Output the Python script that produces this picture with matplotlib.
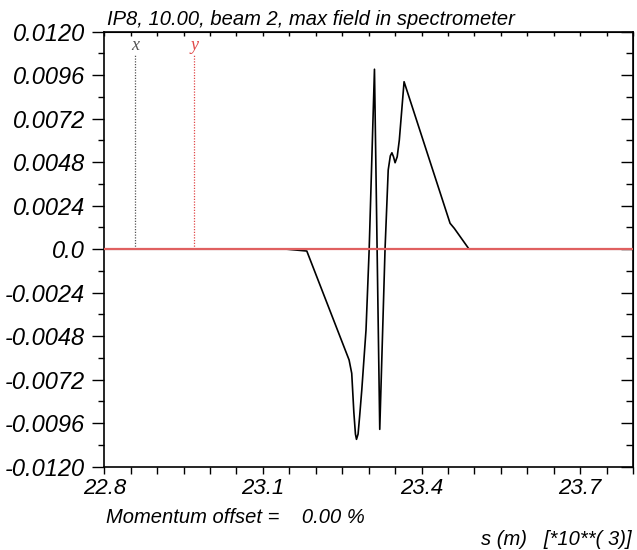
import matplotlib
matplotlib.use("Agg")
import matplotlib.pyplot as plt
import numpy as np
from matplotlib.ticker import MultipleLocator

# data
s_vals = [22.80, 23.145, 23.183, 23.263, 23.268, 23.272, 23.275, 23.277, 23.280,
          23.283, 23.287, 23.295, 23.301, 23.311, 23.321, 23.331, 23.337, 23.341,
          23.344, 23.347, 23.350, 23.354, 23.358, 23.367, 23.454, 23.462, 23.490, 23.80]
field = [0.0, 0.0, -0.0001, -0.00611, -0.00685, -0.00900, -0.01020, -0.01049, -0.01020,
         -0.00920, -0.00777, -0.00446, 0.0, 0.00993, -0.00994, 0.0, 0.00437, 0.00515,
         0.00532, 0.00510, 0.00477, 0.00510, 0.00602, 0.00924, 0.00143, 0.00115, 0.0, 0.0]
marker_s = [22.858, 22.970]
marker_labels = ["x", "y"]
marker_colors = ["#555555", "#e04848"]
y_ticks = [-0.0120, -0.0096, -0.0072, -0.0048, -0.0024, 0.0, 0.0024, 0.0048, 0.0072, 0.0096, 0.0120]
y_ticklabels = ["-0.0120", "-0.0096", "-0.0072", "-0.0048", "-0.0024", "0.0",
                "0.0024", "0.0048", "0.0072", "0.0096", "0.0120"]
x_ticks = [22.8, 23.1, 23.4, 23.7]
x_ticklabels = ["22.8", "23.1", "23.4", "23.7"]

plt.rcParams['font.family'] = ['Liberation Sans', 'DejaVu Sans']
plt.rcParams['font.style'] = 'italic'

fig = plt.figure(figsize=(6.37, 5.5), dpi=100)
ax = fig.add_axes([104.3/637, 1-466.7/550, (633-104.3)/637, (466.7-31.7)/550])

ax.set_xlim(22.8, 23.8)
ax.set_ylim(-0.012, 0.012)

ax.plot(s_vals, field, color='black', lw=1.2, zorder=2)
ax.axhline(0, color='#e06060', lw=1.6, zorder=3)

for sm, lab, col in zip(marker_s, marker_labels, marker_colors):
    ax.plot([sm, sm], [0, 0.0107], color=col, lw=0.9, ls=(0, (1, 1.2)), zorder=1)
    ax.text(sm, 0.01125, lab, color=col, ha='center', va='center', fontsize=13,
            family=['Liberation Serif', 'DejaVu Serif'], style='italic')

ax.set_yticks(y_ticks)
ax.set_yticklabels(y_ticklabels, fontsize=17, style='italic')
ax.yaxis.set_minor_locator(MultipleLocator(0.0012))
ax.set_xticks(x_ticks)
ax.set_xticklabels(x_ticklabels, fontsize=16, style='italic')
ax.xaxis.set_minor_locator(MultipleLocator(0.05))

ax.tick_params(axis='y', which='major', direction='out', length=9, width=1, pad=5)
ax.tick_params(axis='y', which='minor', direction='out', length=4, width=1)
ax.tick_params(axis='x', which='major', direction='out', length=5, width=1, pad=3)
ax.tick_params(axis='x', which='minor', direction='out', length=5, width=1)

secx = ax.secondary_xaxis('top')
secx.set_xticks(x_ticks)
secx.xaxis.set_minor_locator(MultipleLocator(0.05))
secx.tick_params(which='both', direction='in', length=3, width=1, labeltop=False)

secy = ax.secondary_yaxis('right')
secy.set_yticks(y_ticks)
secy.yaxis.set_minor_locator(MultipleLocator(0.0012))
secy.tick_params(which='major', direction='in', length=9, width=1, labelright=False)
secy.tick_params(which='minor', direction='in', length=5, width=1, labelright=False)

for sp in ax.spines.values():
    sp.set_linewidth(1.2)

fig.text(106.7/637, 1-25/550, "IP8, 10.00, beam 2, max field in spectrometer",
         fontsize=14.5, style='italic', ha='left', va='baseline')
fig.text(106/637, 1-523/550, "Momentum offset =    0.00 %",
         fontsize=14.5, style='italic', ha='left', va='baseline')
fig.text(632/637, 1-545/550, "s (m)   [*10**( 3)]",
         fontsize=14.5, style='italic', ha='right', va='baseline')

fig.savefig("out.png", dpi=100)
